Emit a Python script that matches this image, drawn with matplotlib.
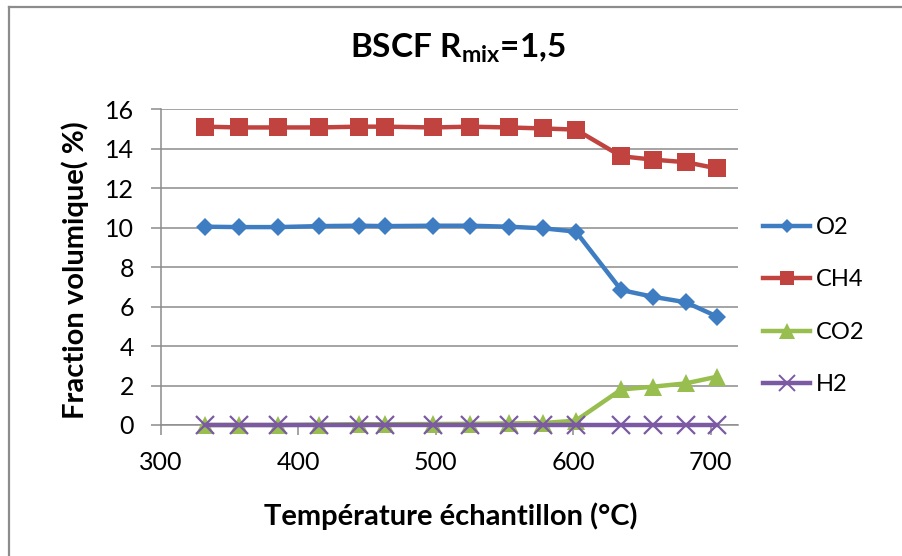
import matplotlib
matplotlib.use("Agg")
import matplotlib.pyplot as plt
from matplotlib.lines import Line2D

plt.rcParams['font.family'] = ['Lato', 'DejaVu Sans']
plt.rcParams['mathtext.fontset'] = 'custom'
plt.rcParams['mathtext.rm'] = 'Lato'
plt.rcParams['mathtext.bf'] = 'Lato:bold'

temperature = [332, 357, 385, 415, 444, 463, 498, 525, 553, 578, 602, 635, 658, 682, 705]
o2 = [10.05, 10.03, 10.03, 10.08, 10.1, 10.08, 10.1, 10.1, 10.05, 9.97, 9.8, 6.84, 6.5, 6.22, 5.49]
ch4 = [15.12, 15.08, 15.08, 15.08, 15.12, 15.12, 15.08, 15.12, 15.08, 15.03, 14.97, 13.62, 13.45, 13.32, 13.0]
co2 = [0.0, 0.0, 0.0, 0.02, 0.04, 0.04, 0.05, 0.06, 0.08, 0.1, 0.22, 1.8, 1.94, 2.11, 2.45]
h2 = [0.0] * 15
series_names = ['O2', 'CH4', 'CO2', 'H2']
x_ticks = [300, 400, 500, 600, 700]
y_ticks = [0, 2, 4, 6, 8, 10, 12, 14, 16]

W, H = 902, 556
fig = plt.figure(figsize=(W / 100, H / 100), dpi=100)
ax_l, ax_r, ax_t, ax_b = 161, 738, 109.3, 425
ax = fig.add_axes([ax_l / W, 1 - ax_b / H, (ax_r - ax_l) / W, (ax_b - ax_t) / H])

c_o2 = '#3F7DC3'
c_ch4 = '#C0433F'
c_co2 = '#97BE4E'
c_h2 = '#7B5AA3'
lw = 3.2

ax.plot(temperature, h2, color=c_h2, lw=lw, marker='x', ms=13, mew=1.6, zorder=3,
        clip_on=False, label=series_names[3])
ax.plot(temperature, co2, color=c_co2, lw=lw, marker='^', ms=13, mew=0, zorder=2.9,
        clip_on=False, label=series_names[2])
ax.plot(temperature, ch4, color=c_ch4, lw=lw, marker='s', ms=12.5, mew=0, zorder=2.8,
        clip_on=False, label=series_names[1])
ax.plot(temperature, o2, color=c_o2, lw=lw, marker='D', ms=9, mew=0, zorder=2.7,
        clip_on=False, label=series_names[0])

ax.set_xlim(300, 720)
ax.set_ylim(0, 16)
ax.set_xticks(x_ticks)
ax.set_yticks(y_ticks)
ax.yaxis.grid(True, color='#8C8C8C', lw=1.1)
ax.set_axisbelow(True)
for s in ['top', 'right']:
    ax.spines[s].set_visible(False)
for s in ['left', 'bottom']:
    ax.spines[s].set_color('#8C8C8C')
    ax.spines[s].set_linewidth(1.1)
ax.tick_params(axis='both', direction='out', length=7.5, width=1.1, color='#8C8C8C',
               labelsize=18, labelcolor='black')
ax.tick_params(axis='y', pad=12)
ax.tick_params(axis='x', pad=11)

ax.set_xlabel('Température échantillon (°C)', fontsize=21, fontweight='bold')
ax.set_ylabel('Fraction volumique( %)', fontsize=21, fontweight='bold')
ax.xaxis.label.set_va('center')
ax.yaxis.label.set_va('center')
ax.xaxis.set_label_coords((451 - ax_l) / (ax_r - ax_l), (ax_b - 516) / (ax_b - ax_t))
ax.yaxis.set_label_coords((75 - ax_l) / (ax_r - ax_l), (ax_b - 270) / (ax_b - ax_t))

fig.text(458 / W, 1 - 48 / H, r'BSCF R$_{\mathbf{mix}}$=1,5', ha='center', va='center',
         fontsize=24, fontweight='bold')

handles = [Line2D([], [], color=c_o2, lw=lw, marker='D', ms=7, mew=0),
           Line2D([], [], color=c_ch4, lw=lw, marker='s', ms=10, mew=0),
           Line2D([], [], color=c_co2, lw=lw, marker='^', ms=11, mew=0),
           Line2D([], [], color=c_h2, lw=lw, marker='x', ms=11, mew=1.4)]
fig.legend(handles, series_names, loc='upper left', bbox_to_anchor=(763 / W, 1 - 217 / H),
           frameon=False, fontsize=17, handlelength=2.0, handletextpad=0.25,
           labelspacing=1.33, borderpad=0, borderaxespad=0)

# chart border
fig.add_artist(Line2D([9 / W, 9 / W], [0, 1 - 7 / H], color='#8C8C8C', lw=1.6, transform=fig.transFigure))
fig.add_artist(Line2D([9 / W, 1], [1 - 7 / H, 1 - 7 / H], color='#8C8C8C', lw=1.6, transform=fig.transFigure))

fig.savefig('out.png', dpi=100)
